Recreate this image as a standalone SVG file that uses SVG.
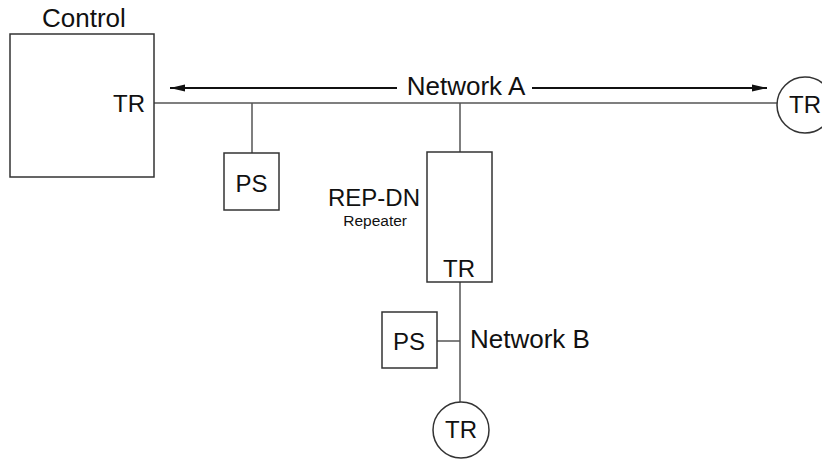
<svg xmlns="http://www.w3.org/2000/svg" width="822" height="460" viewBox="0 0 822 460">
<style>
text{font-family:"Liberation Sans",Arial,sans-serif;fill:#111}
.box{fill:#fff;stroke:#333;stroke-width:1.5}
.wire{stroke:#555;stroke-width:1.5;fill:none}
.arr{stroke:#111;stroke-width:2;fill:none}
.t{font-size:24px}
.tb{font-size:26px}
</style>
<defs>
<marker id="ah" markerWidth="16" markerHeight="8" refX="15" refY="4" orient="auto" markerUnits="userSpaceOnUse">
<path d="M0,0.5 L15,4 L0,7.5 Z" fill="#111"/>
</marker>
</defs>
<rect width="822" height="460" fill="#fff"/>
<g id="connectors">
<line class="wire" x1="154" y1="103" x2="777" y2="103"/>
<line class="wire" x1="252" y1="103" x2="252" y2="153"/>
<line class="wire" x1="460" y1="103" x2="460" y2="152"/>
<line class="wire" x1="460" y1="282" x2="460" y2="402"/>
<line class="wire" x1="437" y1="341" x2="460" y2="341"/>
<line class="arr" x1="397" y1="88" x2="170" y2="88" marker-end="url(#ah)"/>
<line class="arr" x1="532" y1="88" x2="767" y2="88" marker-end="url(#ah)"/>
</g>
<g id="control">
<rect class="box" x="10" y="34" width="144" height="143"/>
<text class="tb" x="42" y="27">Control</text>
<text class="t" x="145" y="112" text-anchor="end">TR</text>
</g>
<g id="networkA-label">
<text class="tb" x="466" y="95" text-anchor="middle">Network A</text>
</g>
<g id="ps1">
<rect class="box" x="224" y="153" width="55" height="57"/>
<text class="t" x="251.5" y="192" text-anchor="middle">PS</text>
</g>
<g id="repeater">
<rect class="box" x="427" y="152" width="65" height="130"/>
<text class="t" x="459" y="277" text-anchor="middle">TR</text>
<text x="420" y="206" text-anchor="end" style="font-size:24px">REP-DN</text>
<text x="407" y="226" text-anchor="end" style="font-size:15.5px">Repeater</text>
</g>
<g id="tr-right">
<circle class="box" cx="805" cy="105" r="28"/>
<text class="t" x="805" y="113" text-anchor="middle">TR</text>
</g>
<g id="ps2">
<rect class="box" x="382" y="312" width="55" height="56"/>
<text class="t" x="409" y="350" text-anchor="middle">PS</text>
</g>
<g id="networkB-label">
<text class="tb" x="470" y="348">Network B</text>
</g>
<g id="tr-bottom">
<circle class="box" cx="461" cy="430" r="28"/>
<text class="t" x="461" y="438" text-anchor="middle">TR</text>
</g>
</svg>
